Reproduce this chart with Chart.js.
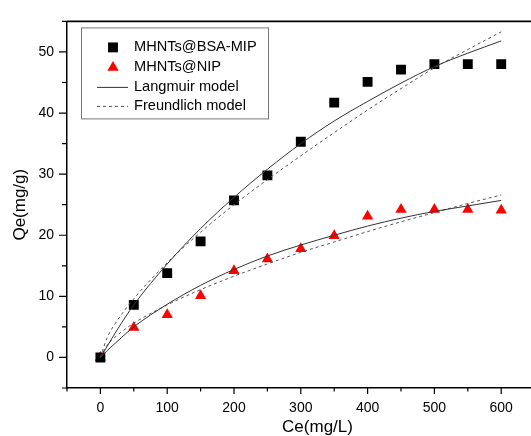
<!DOCTYPE html>
<html>
<head>
<meta charset="utf-8">
<script src="https://cdn.jsdelivr.net/npm/chart.js@4.4.1/dist/chart.umd.min.js"></script>
<style>
html,body{margin:0;padding:0;background:#fff;overflow:hidden;}
#wrap{width:580px;height:436px;position:relative;}
</style>
</head>
<body>
<div id="wrap"><canvas id="grafico"></canvas></div>
<script>
// DADOS
const ceValues = [0,50,100,150,200,250,300,350,400,450,500,550,600];
const mipQe = [0,8.6,13.8,19.0,25.7,29.8,35.3,41.7,45.1,47.1,48.0,48.0,48.0];
const nipQe = [0,4.9,7.0,10.1,14.2,16.1,17.8,19.9,23.1,24.2,24.2,24.2,24.1];

// curvas ajustadas
const fitCe = [0,10,25,50,100,150,200,250,300,350,400,450,500,550,600];
const mipLangmuir   = [0,1.8,4.5,8.6,15.3,21.1,26.2,30.8,35.0,38.7,41.9,44.9,47.6,49.8,51.8];
const mipFreundlich = [0,3.2,6.0,9.6,15.5,20.5,25.0,29.1,33.0,36.8,40.5,44.0,47.4,50.4,53.3];
const nipLangmuir   = [0,1.1,2.6,5.0,8.7,11.8,14.4,16.6,18.4,20.0,21.5,22.8,23.9,24.8,25.7];
const nipFreundlich = [0,2.0,3.6,5.6,8.6,11.1,13.3,15.3,17.2,18.9,20.6,22.2,23.7,25.2,26.6];

// TICKS
const xTicks = [-50,0,50,100,150,200,250,300,350,400,450,500,550,600,650,700];
const yTicks = [-5,0,5,10,15,20,25,30,35,40,45,50,55];

const fonte = "'Liberation Sans', Arial, sans-serif";
const pontos = (xs, ys) => xs.map((x,i)=>({x:x, y:ys[i]}));

// marcas dos eixos + borda de cima
const marcasEixo = {
    id:'marcasEixo',
    afterDraw(chart){
        const {ctx, scales:{x,y}, chartArea:a} = chart;
        ctx.save();
        ctx.strokeStyle = '#000';
        ctx.lineWidth = 1.2;
        ctx.beginPath();
        xTicks.forEach(v=>{
            const px = x.getPixelForValue(v);
            const len = v%100===0 ? 6 : 3.5;
            ctx.moveTo(px, a.bottom); ctx.lineTo(px, a.bottom+len);
        });
        yTicks.forEach(v=>{
            const py = y.getPixelForValue(v);
            const len = v%10===0 ? 8 : 5;
            ctx.moveTo(a.left-len, py); ctx.lineTo(a.left, py);
        });
        ctx.stroke();
        ctx.lineWidth = 1.6;
        ctx.beginPath();
        ctx.moveTo(a.left, a.top); ctx.lineTo(a.right, a.top);
        ctx.stroke();
        ctx.restore();
    }
};

// legenda com caixa
const legendaCaixa = {
    id:'legendaCaixa',
    afterDraw(chart){
        const {ctx, chartArea:a} = chart;
        const ds = chart.data.datasets;
        const itens = [ds[0], ds[1], ds[2], ds[4]];
        const bx = a.left+14, by = a.top+6;
        ctx.save();
        ctx.strokeStyle = '#777';
        ctx.lineWidth = 1;
        ctx.strokeRect(bx+0.5, by+0.5, 187, 91);
        ctx.font = '14.6px ' + fonte;
        ctx.textBaseline = 'middle';
        ctx.fillStyle = '#000';
        const rows = [20, 40, 60, 79];
        itens.forEach((d,i)=>{
            const yy = by + rows[i];
            if(d.showLine === false){
                ctx.fillStyle = d.backgroundColor;
                Chart.helpers.drawPoint(ctx, {pointStyle:d.pointStyle, radius:d.pointRadius, rotation:0, borderWidth:0}, bx+32, yy);
            } else {
                ctx.strokeStyle = d.borderColor;
                ctx.lineWidth = d.borderWidth;
                ctx.setLineDash(d.borderDash || []);
                ctx.beginPath();
                ctx.moveTo(bx+16, yy); ctx.lineTo(bx+47, yy);
                ctx.stroke();
                ctx.setLineDash([]);
            }
            ctx.fillStyle = '#000';
            ctx.fillText(d.label, bx+53, yy);
        });
        ctx.restore();
    }
};

const linha = (label, xs, ys, cor, dash) => ({
    label: label,
    data: pontos(xs, ys),
    showLine: true,
    borderColor: cor,
    borderWidth: 1,
    borderDash: dash,
    pointRadius: 0,
    cubicInterpolationMode: 'monotone',
    fill: false,
    order: 0
});

new Chart(document.getElementById('grafico'), {
    type: 'scatter',
    data: {
        datasets: [
            {label:'MHNTs@BSA-MIP', data: pontos(ceValues, mipQe), showLine:false,
             pointStyle:'rect', pointRadius:7, backgroundColor:'#000', borderWidth:0, order:1},
            {label:'MHNTs@NIP', data: pontos(ceValues, nipQe), showLine:false,
             pointStyle:'triangle', pointRadius:6.5, backgroundColor:'#ff0000', borderWidth:0, order:1},
            linha('Langmuir model', fitCe, mipLangmuir, '#333', []),
            linha('Langmuir model', fitCe, nipLangmuir, '#333', []),
            linha('Freundlich model', fitCe, mipFreundlich, '#555', [3,3]),
            linha('Freundlich model', fitCe, nipFreundlich, '#555', [3,3])
        ]
    },
    options: {
        responsive: true,
        maintainAspectRatio: false,
        animation: false,
        layout: {padding: {top:12, right:7.5, left:0, bottom:0}},
        plugins: {legend:{display:false}, tooltip:{enabled:false}},
        scales: {
            x: {
                type:'linear', min:-50, max:700,
                afterBuildTicks: s => { s.ticks = xTicks.map(v=>({value:v})); },
                afterFit: s => { s.height = 48; },
                grid: {display:false, drawTicks:false},
                border: {display:true, color:'#000', width:1.5},
                ticks: {padding:12, color:'#000', maxRotation:0, autoSkip:false,
                    font:{size:14, family:fonte},
                    callback: v => (v%100===0 && v>=0 && v<=600) ? v : ''},
                title: {display:true, text:'Ce(mg/L)', color:'#000',
                    font:{size:17, family:fonte, lineHeight:1}, padding:{top:0, bottom:0}}
            },
            y: {
                type:'linear', min:-5, max:55,
                afterBuildTicks: s => { s.ticks = yTicks.map(v=>({value:v})); },
                afterFit: s => { s.width = 67; },
                grid: {display:false, drawTicks:false},
                border: {display:true, color:'#000', width:1.5},
                ticks: {padding:13, color:'#000', autoSkip:false,
                    font:{size:14, family:fonte},
                    callback: v => (v%10===0 && v>=0 && v<=50) ? v : ''},
                title: {display:true, text:'Qe(mg/g)', color:'#000',
                    font:{size:17, family:fonte, lineHeight:1}, padding:{top:11.5, bottom:0}}
            }
        }
    },
    plugins: [marcasEixo, legendaCaixa]
});
</script>
</body>
</html>
